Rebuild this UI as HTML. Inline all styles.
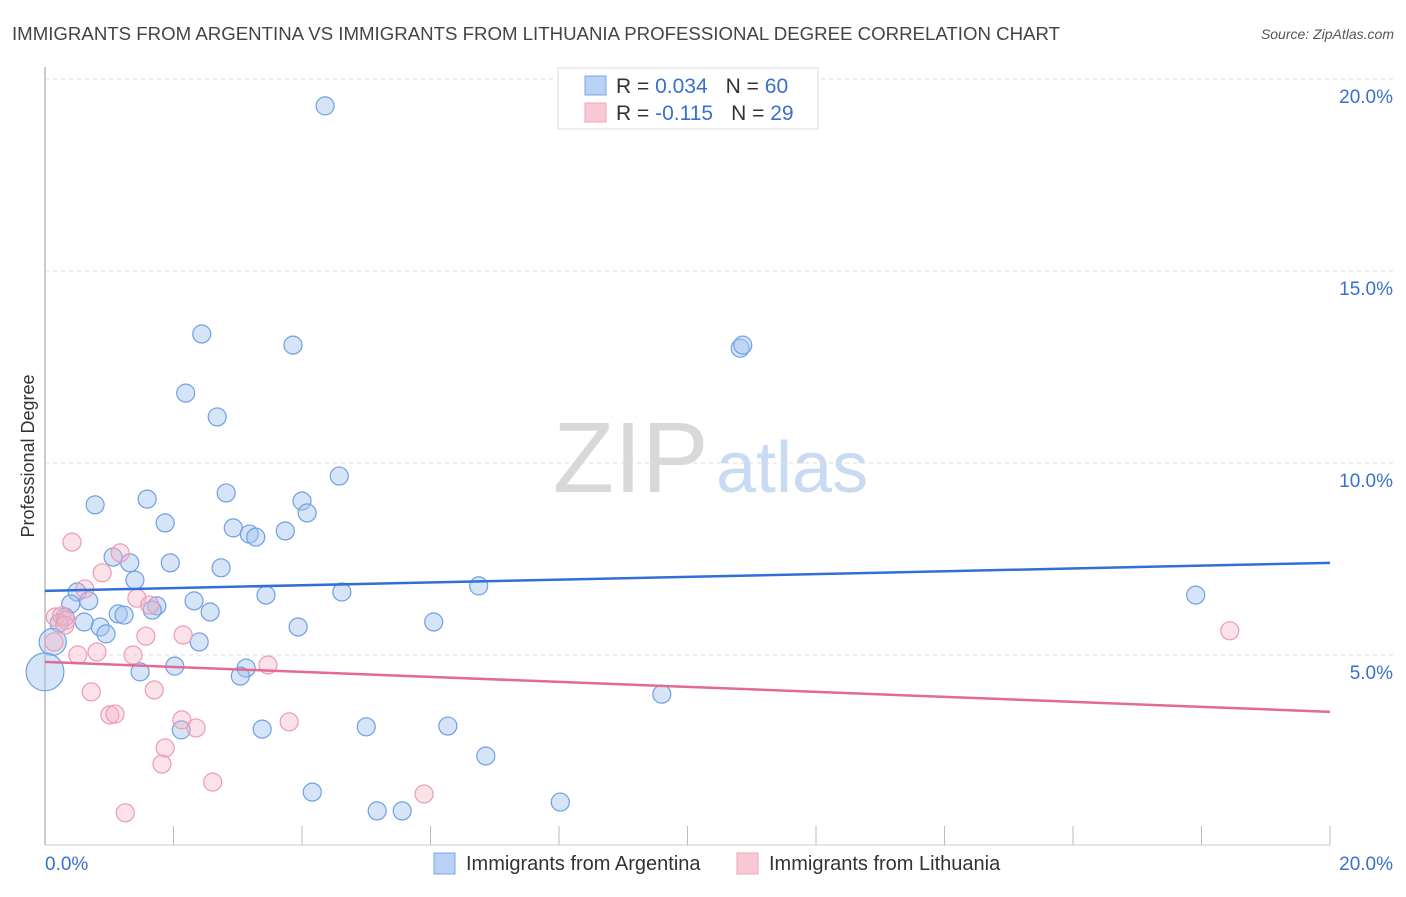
<!DOCTYPE html>
<html><head><meta charset="utf-8"><style>
body{margin:0;background:#fff;font-family:"Liberation Sans",sans-serif}
svg text{font-family:"Liberation Sans",sans-serif}
</style></head><body>
<svg id="chart" width="1406" height="892">
<text x="12" y="40" font-size="18" fill="#444" textLength="1048" lengthAdjust="spacingAndGlyphs">IMMIGRANTS FROM ARGENTINA VS IMMIGRANTS FROM LITHUANIA PROFESSIONAL DEGREE CORRELATION CHART</text>
<text x="1394" y="39" font-size="14" fill="#555" font-style="italic" text-anchor="end">Source: ZipAtlas.com</text>
<g>
<text x="553" y="492" font-size="100" fill="#d8d8d8" font-family="Liberation Serif, serif">ZIP</text>
<text x="716" y="492" font-size="72" fill="#c9daf3">atlas</text>
</g>
<g id="grid"></g>
<g id="axes"></g>
<g id="pts"></g>
<g id="lines"></g>
<text transform="translate(34,456) rotate(-90)" font-size="18" fill="#333" text-anchor="middle">Professional Degree</text>
<g>
<rect x="558" y="68" width="260" height="61" fill="#fff" stroke="#ddd"/>
<rect x="585" y="76" width="21" height="19" fill="#b8d1f5" stroke="#7aa5e5"/>
<rect x="585" y="103" width="21" height="19" fill="#f8c8d5" stroke="#eea4b8"/>
<text x="616" y="93" font-size="21" fill="#333">R = <tspan fill="#3a6fcf">0.034</tspan><tspan dx="18">N = </tspan><tspan fill="#3a6fcf">60</tspan></text>
<text x="616" y="120" font-size="21" fill="#333">R = <tspan fill="#3a6fcf">-0.115</tspan><tspan dx="18">N = </tspan><tspan fill="#3a6fcf"> 29</tspan></text>
</g>
<g>
<rect x="434" y="853" width="21" height="21" fill="#b8d1f5" stroke="#7aa5e5"/>
<text x="466" y="870" font-size="20" fill="#333">Immigrants from Argentina</text>
<rect x="737" y="853" width="21" height="21" fill="#f8c8d5" stroke="#eea4b8"/>
<text x="769" y="870" font-size="20" fill="#333">Immigrants from Lithuania</text>
</g>
</svg>
<script>
const blueX=[4.36,2.44,3.86,10.82,10.86,2.19,2.68,4.58,2.82,0.78,1.59,4.00,4.08,1.87,2.93,3.74,3.18,3.28,1.06,1.32,1.95,2.74,1.40,6.75,0.50,4.62,3.44,17.91,0.68,2.32,1.74,1.67,2.57,0.40,1.14,1.23,0.31,0.61,6.05,0.86,3.94,0.22,0.95,2.40,0.12,2.02,3.13,3.04,1.48,0,9.60,2.12,3.38,5.00,6.27,6.86,4.16,8.02,5.17,5.56];
const blueY=[19.30,13.36,13.07,12.99,13.07,11.82,11.20,9.66,9.22,8.91,9.06,9.01,8.70,8.44,8.31,8.23,8.15,8.07,7.55,7.40,7.40,7.27,6.95,6.80,6.64,6.64,6.56,6.56,6.41,6.41,6.28,6.17,6.12,6.33,6.07,6.04,5.99,5.86,5.86,5.73,5.73,5.83,5.55,5.34,5.34,4.71,4.66,4.45,4.56,4.56,3.98,3.05,3.07,3.13,3.15,2.37,1.43,1.17,0.94,0.94];
const blueW=[1,1,1,1,1,1,1,1,1,1,1,1,1,1,1,1,1,1,1,1,1,1,1,1,1,1,1,1,1,1,1,1,1,1,1,1,1,1,1,1,1,1,1,1,1.5,1,1,1,1,2.1,1,1,1,1,1,1,1,1,1,1];
const pinkX=[0.42,1.17,0.89,0.62,1.43,1.63,0.16,0.26,0.33,0.31,1.57,2.15,0.51,0.81,1.37,3.47,0.14,0.72,1.70,1.01,1.09,2.13,2.35,3.80,1.87,1.82,2.61,5.90,1.25,18.44];
const pinkY=[7.94,7.66,7.14,6.72,6.48,6.30,5.99,6.02,5.91,5.78,5.49,5.52,5.00,5.08,5.00,4.74,5.34,4.04,4.09,3.44,3.46,3.31,3.10,3.26,2.58,2.16,1.69,1.38,0.89,5.63];
const blueTrend=[6.67,7.40];
const pinkTrend=[4.82,3.52];
const yTicks=[5,10,15,20];
const yTickLabels=["5.0%","10.0%","15.0%","20.0%"];
const xTicks=[0,2,4,6,8,10,12,14,16,18,20];

const NS="http://www.w3.org/2000/svg";
const X=v=>45+v*64.25, Y=v=>847-v*38.4;
function mk(p,t,a){const e=document.createElementNS(NS,t);for(const k in a)e.setAttribute(k,a[k]);p.appendChild(e);return e;}
const grid=document.getElementById('grid'),axes=document.getElementById('axes'),pts=document.getElementById('pts'),lines=document.getElementById('lines');
yTicks.forEach((t,i)=>{
 const l=mk(grid,'line',{x1:45,x2:1393,y1:Y(t),y2:Y(t),stroke:'#ddd','stroke-dasharray':'4,4'});
 
 
 const tx=mk(grid,'text',{x:1393,y:Y(t)+24,'font-size':19,fill:'#3a6fcf','text-anchor':'end'});
 tx.textContent=yTickLabels[i];
 
 
});
const ya=mk(axes,'line',{x1:45,x2:45,y1:67,y2:845,stroke:'#bbb','stroke-width':1.5});


const xa=mk(axes,'line',{x1:45,x2:1330,y1:845,y2:845,stroke:'#ccc'});


xTicks.forEach(t=>{const l=mk(axes,'line',{x1:X(t),x2:X(t),y1:826,y2:845,stroke:'#bbb'});
 
 });
const xl0=mk(axes,'text',{x:45,y:870,'font-size':19,fill:'#3a6fcf'});xl0.textContent='0.0%';


const xl1=mk(axes,'text',{x:1393,y:870,'font-size':19,fill:'#3a6fcf','text-anchor':'end'});xl1.textContent='20.0%';


blueX.forEach((v,i)=>{const c=mk(pts,'circle',{cx:X(v),cy:Y(blueY[i]),r:9*blueW[i],fill:'rgba(164,196,240,0.45)',stroke:'#6f9fe2','stroke-width':1.2});
 
 });
pinkX.forEach((v,i)=>{const c=mk(pts,'circle',{cx:X(v),cy:Y(pinkY[i]),r:9,fill:'rgba(246,180,198,0.4)',stroke:'#eb9cb2','stroke-width':1.2});
 
 });
const bl=mk(lines,'line',{x1:X(0),x2:X(20),y1:Y(blueTrend[0]),y2:Y(blueTrend[1]),stroke:'#2f6fd6','stroke-width':2.5});


const pl=mk(lines,'line',{x1:X(0),x2:X(20),y1:Y(pinkTrend[0]),y2:Y(pinkTrend[1]),stroke:'#e26a93','stroke-width':2.5});


</script>
</body></html>
